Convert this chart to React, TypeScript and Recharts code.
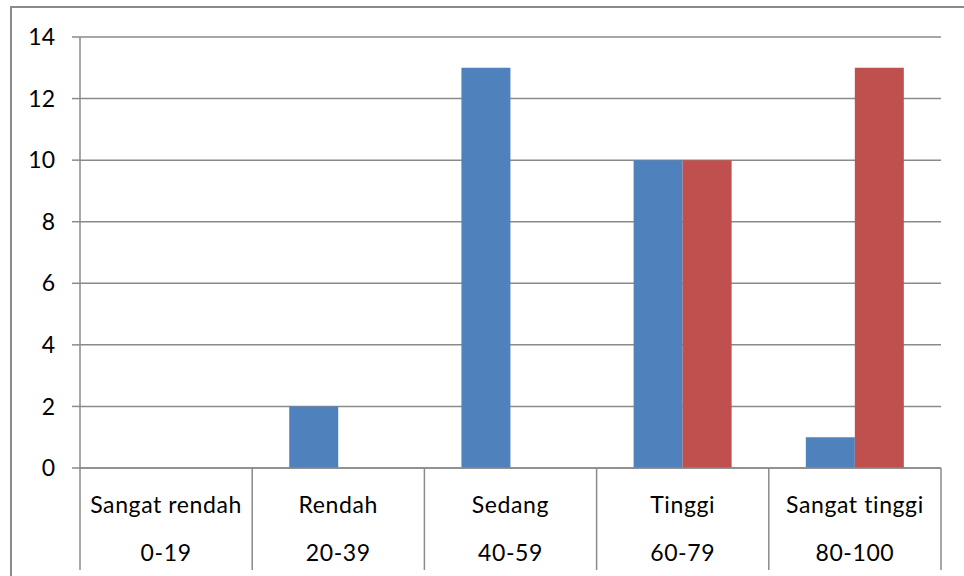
import { BarChart, Bar, XAxis, YAxis, CartesianGrid } from "recharts";

const categories = ["Sangat rendah", "Rendah", "Sedang", "Tinggi", "Sangat tinggi"];
const ranges = ["0-19", "20-39", "40-59", "60-79", "80-100"];
const seriesBlue = [0, 2, 13, 10, 1];
const seriesRed = [0, 0, 0, 10, 13];
const yTicks = [0, 2, 4, 6, 8, 10, 12, 14];

const data = categories.map((name, i) => ({
    name,
    range: ranges[i],
    blue: seriesBlue[i],
    red: seriesRed[i],
}));

const W = 964;
const H = 576;
const M = { top: 37, right: 23, bottom: 0, left: 0 };
const X_H = 108;
const Y_W = 80;
const PLOT_W = W - M.left - M.right - Y_W;
const BAND = PLOT_W / categories.length;
const LINE = "#8a8a8a";
const FONT = "Lato, 'Open Sans', sans-serif";
const FS = 23;

// two-row category label with divider lines
function CategoryTick(props: any) {
    const { x, y, payload, index } = props;
    const left = x - BAND / 2;
    const right = x + BAND / 2;
    const item = data[index] ?? data.find((d) => d.name === payload.value);
    return (
        <g>
            <line x1={left} y1={y - 8} x2={left} y2={H - 6} stroke={LINE} strokeWidth={1.5} />
            {index === categories.length - 1 && (
                <line x1={right} y1={y - 8} x2={right} y2={H - 6} stroke={LINE} strokeWidth={1.5} />
            )}
            <text x={x} y={y + 31} textAnchor="middle" dominantBaseline="middle" fill="#000" fontSize={FS} fontFamily={FONT} letterSpacing={0.6}>
                {payload.value}
            </text>
            <text x={x} y={y + 79} textAnchor="middle" dominantBaseline="middle" fill="#000" fontSize={FS} fontFamily={FONT} letterSpacing={0.6}>
                {item ? item.range : ""}
            </text>
        </g>
    );
}

export default function App() {
    return (
        <div style={{ position: "absolute", left: 0, top: 0, width: W, height: H, background: "#fff", overflow: "hidden" }}>
            <div
                style={{
                    position: "absolute",
                    left: 10,
                    top: 6,
                    width: W,
                    height: H - 4,
                    borderTop: `2px solid ${LINE}`,
                    borderLeft: `2px solid ${LINE}`,
                }}
            />
            <div style={{ position: "absolute", left: 0, top: 0 }}>
                <BarChart
                    width={W}
                    height={H}
                    data={data}
                    margin={M}
                    barCategoryGap="21.5%"
                    barGap={0}
                >
                    <CartesianGrid vertical={false} stroke={LINE} strokeWidth={1.5} />
                    <XAxis
                        dataKey="name"
                        axisLine={{ stroke: LINE, strokeWidth: 1.5 }}
                        tickLine={false}
                        interval={0}
                        tick={<CategoryTick />}
                        height={X_H}
                    />
                    <YAxis
                        width={Y_W}
                        domain={[0, 14]}
                        ticks={yTicks}
                        interval={0}
                        axisLine={{ stroke: LINE, strokeWidth: 1.5 }}
                        tickLine={{ stroke: LINE, strokeWidth: 1.5 }}
                        tickSize={8}
                        tickMargin={17}
                        tick={{ fill: "#000", fontSize: FS, fontFamily: FONT }}
                    />
                    <Bar dataKey="blue" fill="#4f81bd" isAnimationActive={false} />
                    <Bar dataKey="red" fill="#c0504d" isAnimationActive={false} />
                </BarChart>
            </div>
        </div>
    );
}
